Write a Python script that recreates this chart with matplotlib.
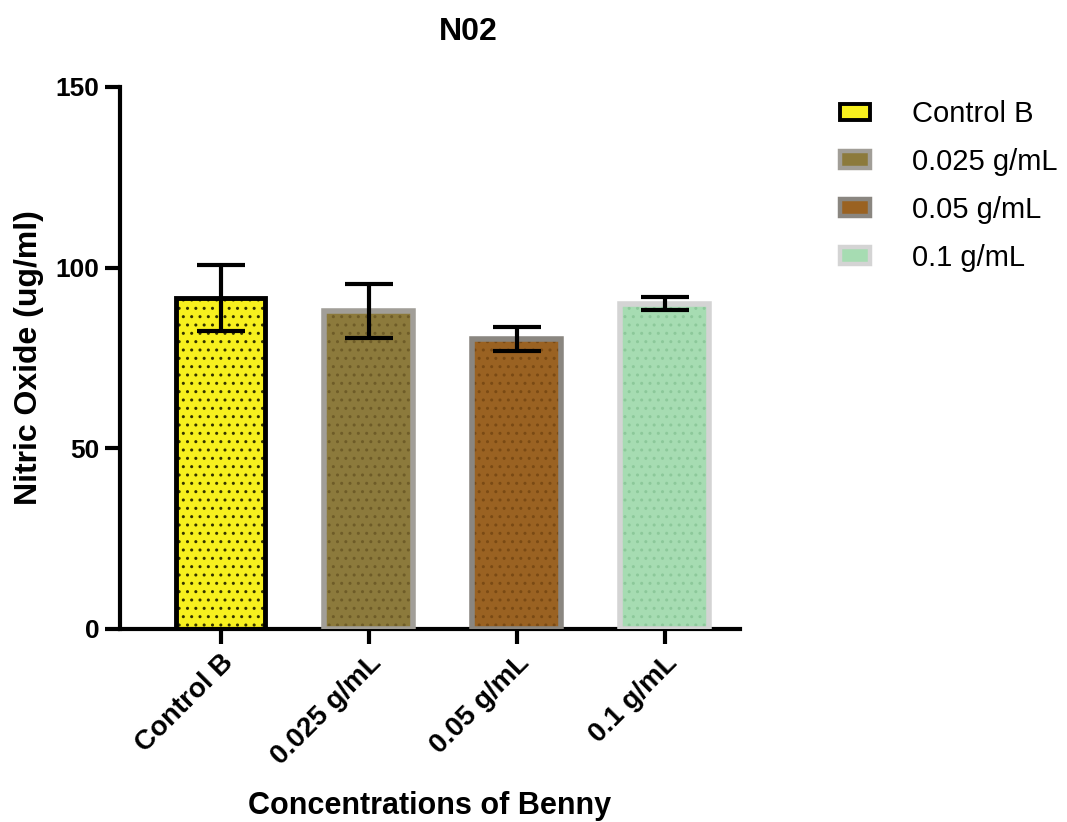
import matplotlib.pyplot as plt
from matplotlib.patches import Patch

plt.rcParams['font.family'] = ['Liberation Sans', 'DejaVu Sans']
plt.rcParams['hatch.linewidth'] = 1.0

# data
groups = ["Control B", "0.025 g/mL", "0.05 g/mL", "0.1 g/mL"]
means = [91.6, 88.0, 80.3, 90.0]
errs = [9.0, 7.4, 3.3, 1.8]
face_colors = ["#f7f01e", "#8c7a3c", "#9a6222", "#a6dcb2"]
dot_colors = ["#333300", "#6e5c28", "#7a4a14", "#8cc89a"]
edge_colors = ["#000000", "#a19e98", "#8a8680", "#d4d4d4"]
edge_widths = [3.5, 4.0, 4.0, 4.0]


def main():
    fig = plt.figure(figsize=(10.67, 8.22), dpi=100)
    ax = fig.add_axes([0.1125, 0.2348, 0.581, 0.6594])

    x = list(range(len(groups)))
    # fill + dotted hatch
    ax.bar(x, means, width=0.6, color=face_colors, edgecolor=dot_colors,
           linewidth=0, hatch="..", zorder=2)
    # outline
    for i in x:
        ax.bar(i, means[i], width=0.6, fill=False, edgecolor=edge_colors[i],
               linewidth=edge_widths[i], zorder=3)
    ax.errorbar(x, means, yerr=errs, fmt="none", ecolor="black",
                elinewidth=3, capsize=17.5, capthick=3, zorder=4)

    ax.set_xlim(-0.68, 3.51)
    ax.set_ylim(0, 150)
    ax.set_yticks([0, 50, 100, 150])
    ax.set_xticks(x)
    ax.set_xticklabels(groups, rotation=45, ha="right", rotation_mode="anchor",
                       fontsize=20, fontweight="bold")
    for lab in ax.get_yticklabels():
        lab.set_fontsize(19)
        lab.set_fontweight("bold")

    for s in ["top", "right"]:
        ax.spines[s].set_visible(False)
    for s in ["left", "bottom"]:
        ax.spines[s].set_linewidth(3)
    ax.tick_params(axis="both", width=3, length=11, direction="out", pad=4)

    fig.text(468 / 1067, 1 - 32 / 822, "N02", fontsize=23, fontweight="bold",
             ha="center", va="center")
    ax.set_ylabel("Nitric Oxide (ug/ml)", fontsize=23, fontweight="bold", labelpad=8)
    ax.set_xlabel("Concentrations of Benny", fontsize=22, fontweight="bold", labelpad=15)

    handles = [Patch(facecolor=face_colors[i], edgecolor=edge_colors[i],
                     linewidth=edge_widths[i] * 0.8, label=groups[i])
               for i in x]
    fig.legend(handles=handles, loc="upper left", bbox_to_anchor=(0.763, 0.91),
               frameon=False, fontsize=21, handlelength=1.0, handleheight=0.5,
               labelspacing=0.68, handletextpad=1.45)

    fig.savefig("out.png", dpi=100)


if __name__ == "__main__":
    main()
